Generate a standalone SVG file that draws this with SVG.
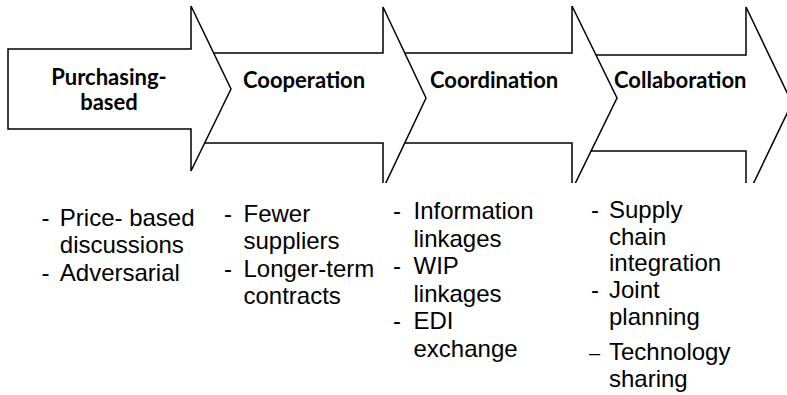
<svg xmlns="http://www.w3.org/2000/svg" width="787" height="395" viewBox="0 0 787 395">
<style>
.arr{fill:#fff;stroke:#000;stroke-width:1.5;stroke-linejoin:miter}
.ttl{font-family:Lato,"Open Sans","Liberation Sans",sans-serif;font-weight:bold;font-size:22px;fill:#000}
.bul{font-family:"Liberation Sans",Arial,sans-serif;font-size:24px;fill:#000}
</style>
<defs>
<clipPath id="cut"><rect x="0" y="0" width="787" height="183"/></clipPath>
</defs>
<rect x="0" y="0" width="787" height="395" fill="#fff"/>
<g clip-path="url(#cut)">
<g id="collaboration">
<path class="arr" d="M580,55 H746 V7 L792,103 L746,199 V151 H580 Z"/>
<text class="ttl" x="614" y="88">Collaboration</text>
</g>
<g id="coordination">
<path class="arr" d="M390,53 H572 V6 L617,98 L572,190 V143 H390 Z"/>
<text class="ttl" x="430" y="88">Coordination</text>
</g>
<g id="cooperation">
<path class="arr" d="M197,53 H383 V7 L426,98 L383,189 V143 H197 Z"/>
<text class="ttl" x="243" y="88">Cooperation</text>
</g>
<g id="purchasing">
<path class="arr" d="M8,49 H191 V6 L231,89 L191,171 V129 H8 Z"/>
<text class="ttl" text-anchor="middle"><tspan x="109" y="85">Purchasing-</tspan><tspan x="109" y="110">based</tspan></text>
</g>
</g>
<g id="list-purchasing" class="bul">
<text x="41.5" y="225.5">-</text><text x="59.8" y="225.5">Price- based</text>
<text x="59.8" y="253">discussions</text>
<text x="41.5" y="280.5">-</text><text x="59.8" y="280.5">Adversarial</text>
</g>
<g id="list-cooperation" class="bul">
<text x="224" y="221.5">-</text><text x="243.5" y="221.5">Fewer</text>
<text x="243.5" y="249">suppliers</text>
<text x="224" y="276.5">-</text><text x="243.5" y="276.5">Longer-term</text>
<text x="243.5" y="304">contracts</text>
</g>
<g id="list-coordination" class="bul">
<text x="393" y="219">-</text><text x="413.5" y="219">Information</text>
<text x="413.5" y="246.5">linkages</text>
<text x="393" y="274">-</text><text x="413.5" y="274">WIP</text>
<text x="413.5" y="301.5">linkages</text>
<text x="393" y="329">-</text><text x="413.5" y="329">EDI</text>
<text x="413.5" y="356.5">exchange</text>
</g>
<g id="list-collaboration" class="bul">
<text x="591" y="217.5">-</text><text x="609" y="217.5">Supply</text>
<text x="609" y="244.5">chain</text>
<text x="609" y="271">integration</text>
<text x="591" y="298">-</text><text x="609" y="298">Joint</text>
<text x="609" y="325">planning</text>
<text x="589" y="360" style="font-size:20px">–</text><text x="609" y="360">Technology</text>
<text x="609" y="387">sharing</text>
</g>
</svg>
